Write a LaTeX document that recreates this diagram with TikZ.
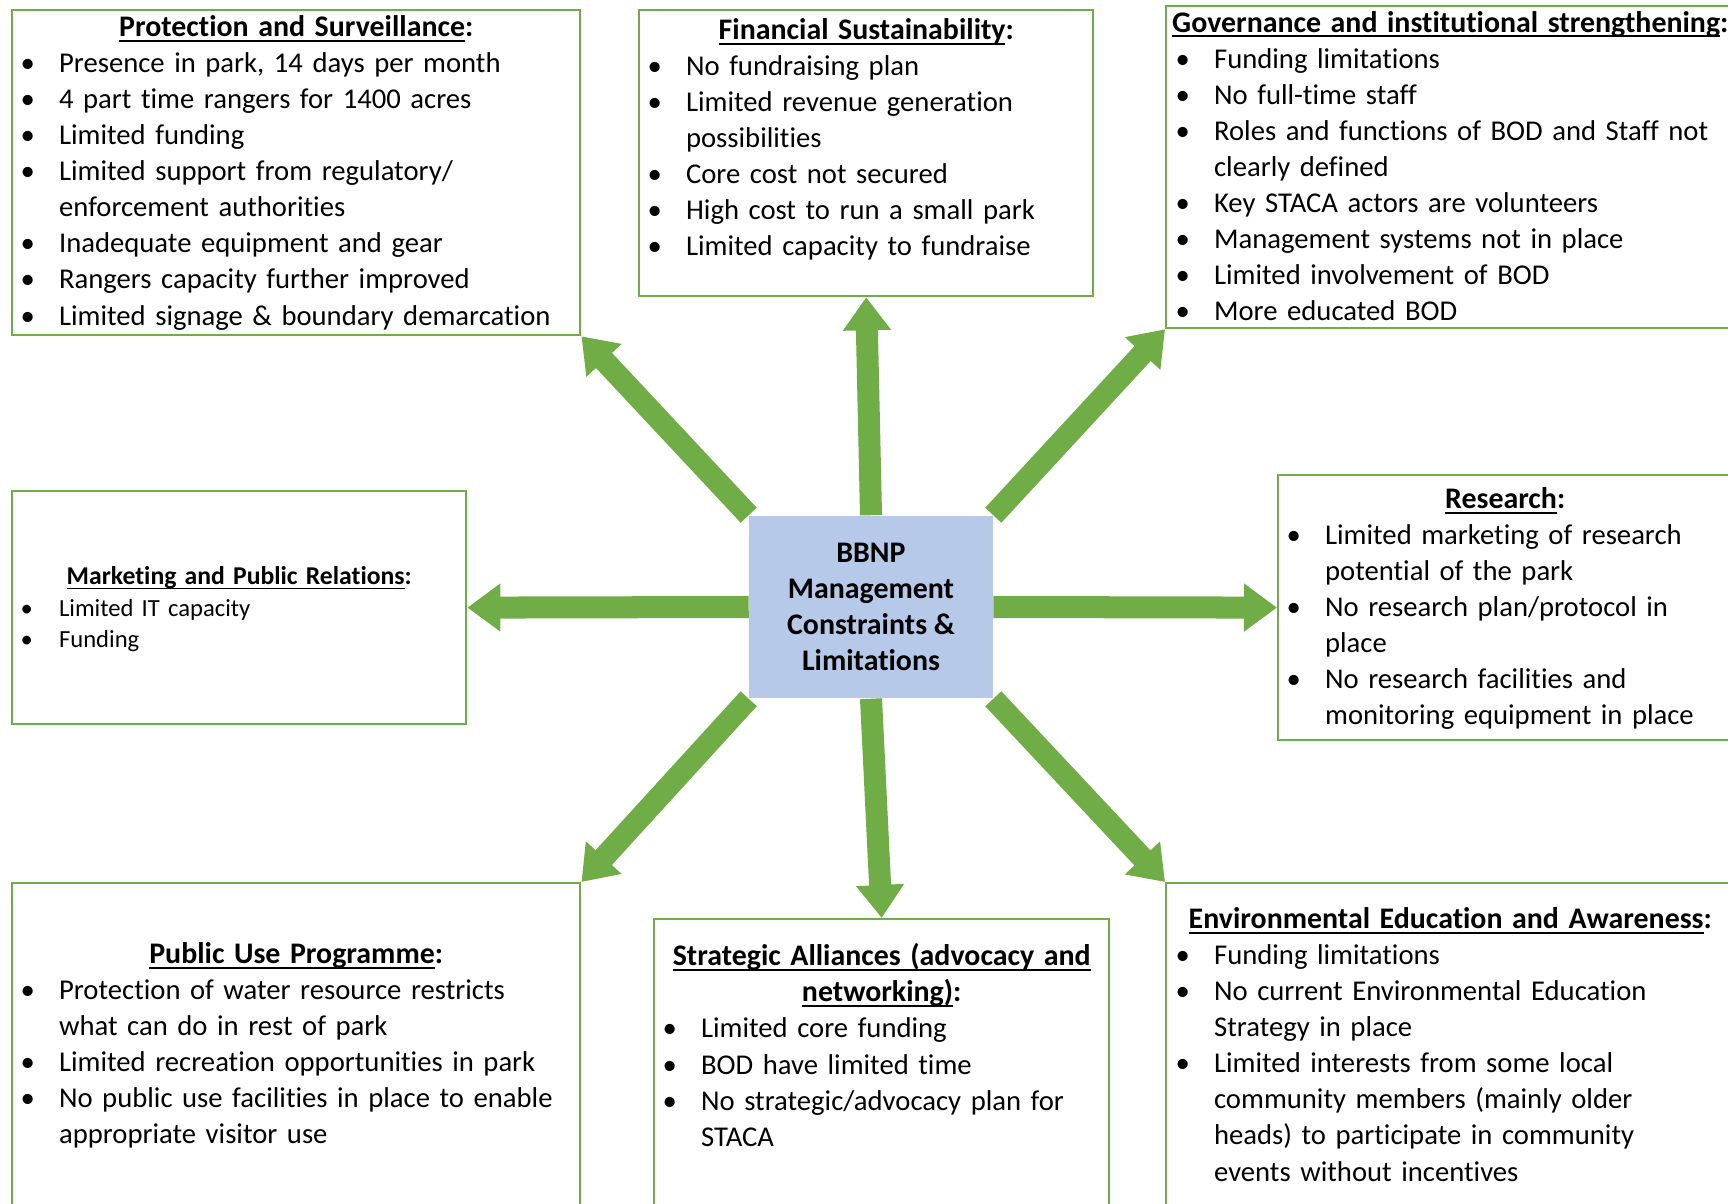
\documentclass[tikz,border=0pt]{standalone}
\usepackage{fontspec}
\setmainfont{Carlito}[Ligatures={NoCommon,NoContextual,NoRare}, RawFeature={-calt}]
\usetikzlibrary{arrows.meta, positioning, backgrounds}

\definecolor{leafgreen}{RGB}{112,173,71}
\definecolor{coreblue}{RGB}{183,201,232}
\hyphenpenalty=10000
\exhyphenpenalty=10000

% underline, bullet line with hanging indent, title line
\newcommand{\uln}[1]{\setbox0\hbox{#1}\rlap{\rule[-0.17em]{\wd0}{0.06em}}\box0}
\newcommand{\itm}[1]{\hangindent=0.35cm\hangafter=1\noindent
    \makebox[0.35cm][l]{\hspace{-0.035cm}\textbullet}#1\par}
\newcommand{\heading}[2][8.5]{\noindent
    \makebox[\linewidth]{\fontsize{#1}{10}\selectfont\uln{\textbf{#2}}\textbf{:}}\par}

\begin{document}
\begin{tikzpicture}[x=0.01cm, y=-0.01cm,
    panel/.style={draw=leafgreen, line width=0.6pt, inner sep=0pt, anchor=north west},
    notes/.style={inner sep=0pt, align=left, font=\fontsize{8.15}{10.25}\selectfont},
    bigarrow/.style={leafgreen, line width=0.22cm, -{Triangle[length=0.33cm, width=0.46cm]}}]
\useasboundingbox (0,0) rectangle (1728,1204);

%okviri
    %gornji red
    \node[panel, minimum width=5.68cm, minimum height=3.25cm] (prot) at (11,9) {};
    \node[panel, minimum width=4.54cm, minimum height=2.86cm] (fin) at (638,9) {};
    \node[panel, minimum width=5.68cm, minimum height=3.22cm] (gov) at (1165,5) {};

    %srednji red
    \node[panel, minimum width=4.54cm, minimum height=2.33cm] (mark) at (11,490) {};
    \node[panel, minimum width=4.54cm, minimum height=2.65cm] (res) at (1277,474) {};

    %donji red
    \node[panel, minimum width=5.68cm, minimum height=4cm] (pub) at (11,882) {};
    \node[panel, minimum width=4.55cm, minimum height=4cm] (strat) at (653,918) {};
    \node[panel, minimum width=5.68cm, minimum height=4cm] (env) at (1165,882) {};

%sredina
    \node[fill=coreblue, minimum width=2.43cm, minimum height=1.82cm, align=center,
          font=\bfseries\fontsize{8.5}{10.25}\selectfont] (core) at (871,607)
          {BBNP\\Management\\Constraints \&\\Limitations};

%strelice
    \begin{scope}[on background layer]
    \foreach \from/\to in {north/fin.south, north west/prot.south east,
                           north east/gov.south west, west/mark.east, east/res.west,
                           south west/pub.north east, south/strat.north,
                           south east/env.north west}
        \draw[bigarrow] (core.\from) -- (\to);
    \end{scope}

%tekstovi
    \node[notes, text width=5.44cm, below=0.06cm of prot.north] (protT) {%
        \heading{Protection and Surveillance}
        \itm{Presence in park, 14 days per month}
        \itm{4 part time rangers for 1400 acres}
        \itm{Limited funding}
        \itm{Limited support from regulatory/\newline enforcement authorities}
        \itm{Inadequate equipment and gear}
        \itm{Rangers capacity further improved}
        \itm{Limited signage \& boundary demarcation}};

    \node[notes, text width=4.30cm, below=0.09cm of fin.north] (finT) {%
        \heading{Financial Sustainability}
        \itm{No fundraising plan}
        \itm{Limited revenue generation\newline possibilities}
        \itm{Core cost not secured}
        \itm{High cost to run a small park}
        \itm{Limited capacity to fundraise}};

    \node[notes, text width=5.42cm, below=0.055cm of gov.north] (govT) {%
        \heading{Governance and institutional strengthening}
        \itm{Funding limitations}
        \itm{No full-time staff}
        \itm{Roles and functions of BOD and Staff not\newline clearly defined}
        \itm{Key STACA actors are volunteers}
        \itm{Management systems not in place}
        \itm{Limited involvement of BOD}
        \itm{More educated BOD}};

    \node[notes, text width=4.30cm, below=0.76cm of mark.north,
          font=\fontsize{7.0}{8.9}\selectfont] (markT) {%
        \heading[7.3]{Marketing and Public Relations}
        \itm{Limited IT capacity}
        \itm{Funding}};

    \node[notes, text width=4.30cm, below=0.13cm of res.north] (resT) {%
        \heading{Research}
        \itm{Limited marketing of research\newline potential of the park}
        \itm{No research plan/protocol in\newline place}
        \itm{No research facilities and\newline monitoring equipment in place}};

    \node[notes, text width=5.44cm, below=0.60cm of pub.north] (pubT) {%
        \heading{Public Use Programme}
        \itm{Protection of water resource restricts\newline what can do in rest of park}
        \itm{Limited recreation opportunities in park}
        \itm{No public use facilities in place to enable\newline appropriate visitor use}};

    \node[notes, text width=4.31cm, below=0.25cm of strat.north] (stratT) {%
        \noindent\makebox[\linewidth]{\fontsize{8.5}{10}\selectfont
            \uln{\textbf{Strategic Alliances (advocacy and}}}\par
        \heading{networking)}
        \itm{Limited core funding}
        \itm{BOD have limited time}
        \itm{No strategic/advocacy plan for\newline STACA}};

    \node[notes, text width=5.42cm, below=0.25cm of env.north] (envT) {%
        \heading{Environmental Education and Awareness}
        \itm{Funding limitations}
        \itm{No current Environmental Education\newline Strategy in place}
        \itm{Limited interests from some local\newline community members (mainly older\newline
             heads) to participate in community\newline events without incentives}};
\end{tikzpicture}
\end{document}
